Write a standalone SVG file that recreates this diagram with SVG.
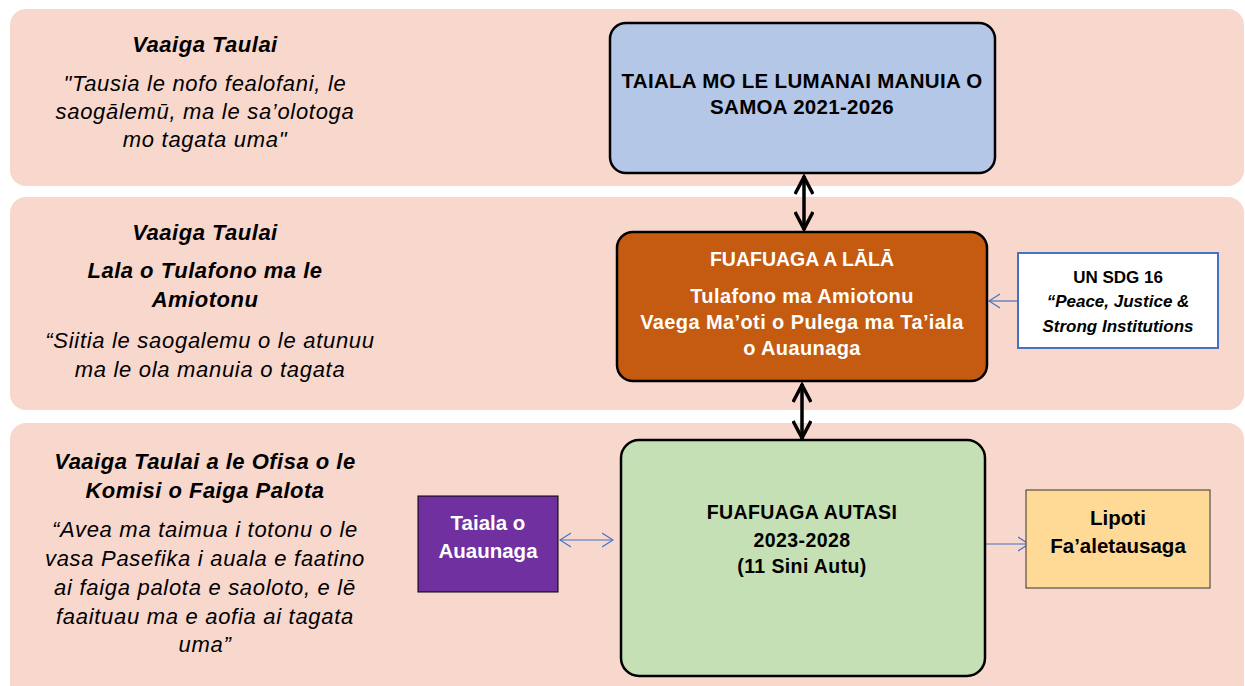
<svg xmlns="http://www.w3.org/2000/svg" width="1245" height="686" viewBox="0 0 1245 686">
<defs>
<style>
.band{fill:#F8D7CD}
.lt{font-family:"Liberation Sans",Arial,sans-serif;font-size:22px;font-style:italic;fill:#000;text-anchor:middle;letter-spacing:0.7px}
.lh{font-weight:bold;letter-spacing:0.5px}
.bx{font-family:"Liberation Sans",Arial,sans-serif;font-weight:bold;text-anchor:middle}
.thick{stroke:#000;stroke-width:3.5;fill:none}
.thin{stroke:#4472C4;stroke-width:1.2;fill:none}
</style>
<marker id="hb" viewBox="0 0 22 20" refX="20" refY="10" markerWidth="22" markerHeight="20" markerUnits="userSpaceOnUse" orient="auto-start-reverse">
<path d="M2,1 L19,10 L2,19" fill="none" stroke="#000" stroke-width="3.5"/>
</marker>
<marker id="ht" viewBox="0 0 12 16" refX="11" refY="8" markerWidth="12" markerHeight="16" markerUnits="userSpaceOnUse" orient="auto-start-reverse">
<path d="M0,1 L11,8 L0,15" fill="none" stroke="#4472C4" stroke-width="1.2"/>
</marker>
</defs>
<rect width="1245" height="686" fill="#fff"/>
<g id="bands">
<rect class="band" x="10" y="9" width="1234" height="177" rx="16"/>
<rect class="band" x="10" y="197" width="1234" height="213" rx="16"/>
<rect class="band" x="10" y="423" width="1234" height="280" rx="16"/>
</g>
<g id="left-texts">
<text class="lt lh" x="205" y="52">Vaaiga Taulai</text>
<text class="lt" x="205" y="91">"Tausia le nofo fealofani, le</text>
<text class="lt" x="205" y="119">saogālemū, ma le sa’olotoga</text>
<text class="lt" x="205" y="147">mo tagata uma"</text>
<text class="lt lh" x="205" y="240">Vaaiga Taulai</text>
<text class="lt lh" x="205" y="278">Lala o Tulafono ma le</text>
<text class="lt lh" x="205" y="307">Amiotonu</text>
<text class="lt" x="210" y="348">“Siitia le saogalemu o le atunuu</text>
<text class="lt" x="210" y="377">ma le ola manuia o tagata</text>
<text class="lt lh" x="205" y="469">Vaaiga Taulai a le Ofisa o le</text>
<text class="lt lh" x="205" y="498">Komisi o Faiga Palota</text>
<text class="lt" x="205" y="537">“Avea ma taimua i totonu o le</text>
<text class="lt" x="205" y="566">vasa Pasefika i auala e faatino</text>
<text class="lt" x="205" y="595">ai faiga palota e saoloto, e lē</text>
<text class="lt" x="205" y="624">faaituau ma e aofia ai tagata</text>
<text class="lt" x="205" y="652">uma”</text>
</g>
<g id="connectors">
<line class="thick" x1="804" y1="176" x2="804" y2="230" marker-start="url(#hb)" marker-end="url(#hb)"/>
<line class="thick" x1="802" y1="384" x2="802" y2="439" marker-start="url(#hb)" marker-end="url(#hb)"/>
<line class="thin" x1="1018" y1="301" x2="989" y2="301" marker-end="url(#ht)"/>
<line class="thin" x1="560" y1="540" x2="613" y2="540" marker-start="url(#ht)" marker-end="url(#ht)"/>
<line class="thin" x1="986" y1="544" x2="1029" y2="544" marker-end="url(#ht)"/>
</g>
<g id="node-lumanai">
<rect x="610" y="23" width="385" height="150" rx="16" fill="#B4C7E7" stroke="#000" stroke-width="2.5"/>
<text class="bx" x="802" y="88" font-size="20.5" letter-spacing="0.3">TAIALA MO LE LUMANAI MANUIA O</text>
<text class="bx" x="802" y="114" font-size="20.5" letter-spacing="0.3">SAMOA 2021-2026</text>
</g>
<g id="node-lala">
<rect x="617" y="232" width="370" height="149" rx="16" fill="#C55A11" stroke="#000" stroke-width="2.5"/>
<text class="bx" x="802" y="266" font-size="19.5" fill="#fff">FUAFUAGA A LĀLĀ</text>
<text class="bx" x="802" y="303" font-size="20" fill="#fff" letter-spacing="0.4">Tulafono ma Amiotonu</text>
<text class="bx" x="802" y="329" font-size="20" fill="#fff" letter-spacing="0.4">Vaega Ma’oti o Pulega ma Ta’iala</text>
<text class="bx" x="802" y="355" font-size="20" fill="#fff" letter-spacing="0.4">o Auaunaga</text>
</g>
<g id="node-sdg">
<rect x="1018" y="253" width="200" height="95" fill="#fff" stroke="#4472C4" stroke-width="2"/>
<text class="bx" x="1118" y="283" font-size="17">UN SDG 16</text>
<text class="bx" x="1118" y="307" font-size="17" font-style="italic">“Peace, Justice &amp;</text>
<text class="bx" x="1118" y="332" font-size="17" font-style="italic">Strong Institutions</text>
</g>
<g id="node-autasi">
<rect x="621" y="440" width="364" height="236" rx="18" fill="#C5E0B4" stroke="#000" stroke-width="2.5"/>
<text class="bx" x="802" y="519" font-size="19.5" letter-spacing="0.4">FUAFUAGA AUTASI</text>
<text class="bx" x="802" y="547" font-size="19.5" letter-spacing="0.4">2023-2028</text>
<text class="bx" x="802" y="573" font-size="19.5" letter-spacing="0.4">(11 Sini Autu)</text>
</g>
<g id="node-taiala">
<rect x="418" y="496" width="140" height="96" fill="#7030A0" stroke="#000" stroke-width="1"/>
<text class="bx" x="488" y="530" font-size="20.5" fill="#fff">Taiala o</text>
<text class="bx" x="488" y="558" font-size="20.5" fill="#fff">Auaunaga</text>
</g>
<g id="node-lipoti">
<rect x="1026" y="490" width="184" height="98" fill="#FFD996" stroke="#333" stroke-width="1"/>
<text class="bx" x="1118" y="525" font-size="20.5">Lipoti</text>
<text class="bx" x="1118" y="553" font-size="20.5">Fa’aletausaga</text>
</g>
</svg>
